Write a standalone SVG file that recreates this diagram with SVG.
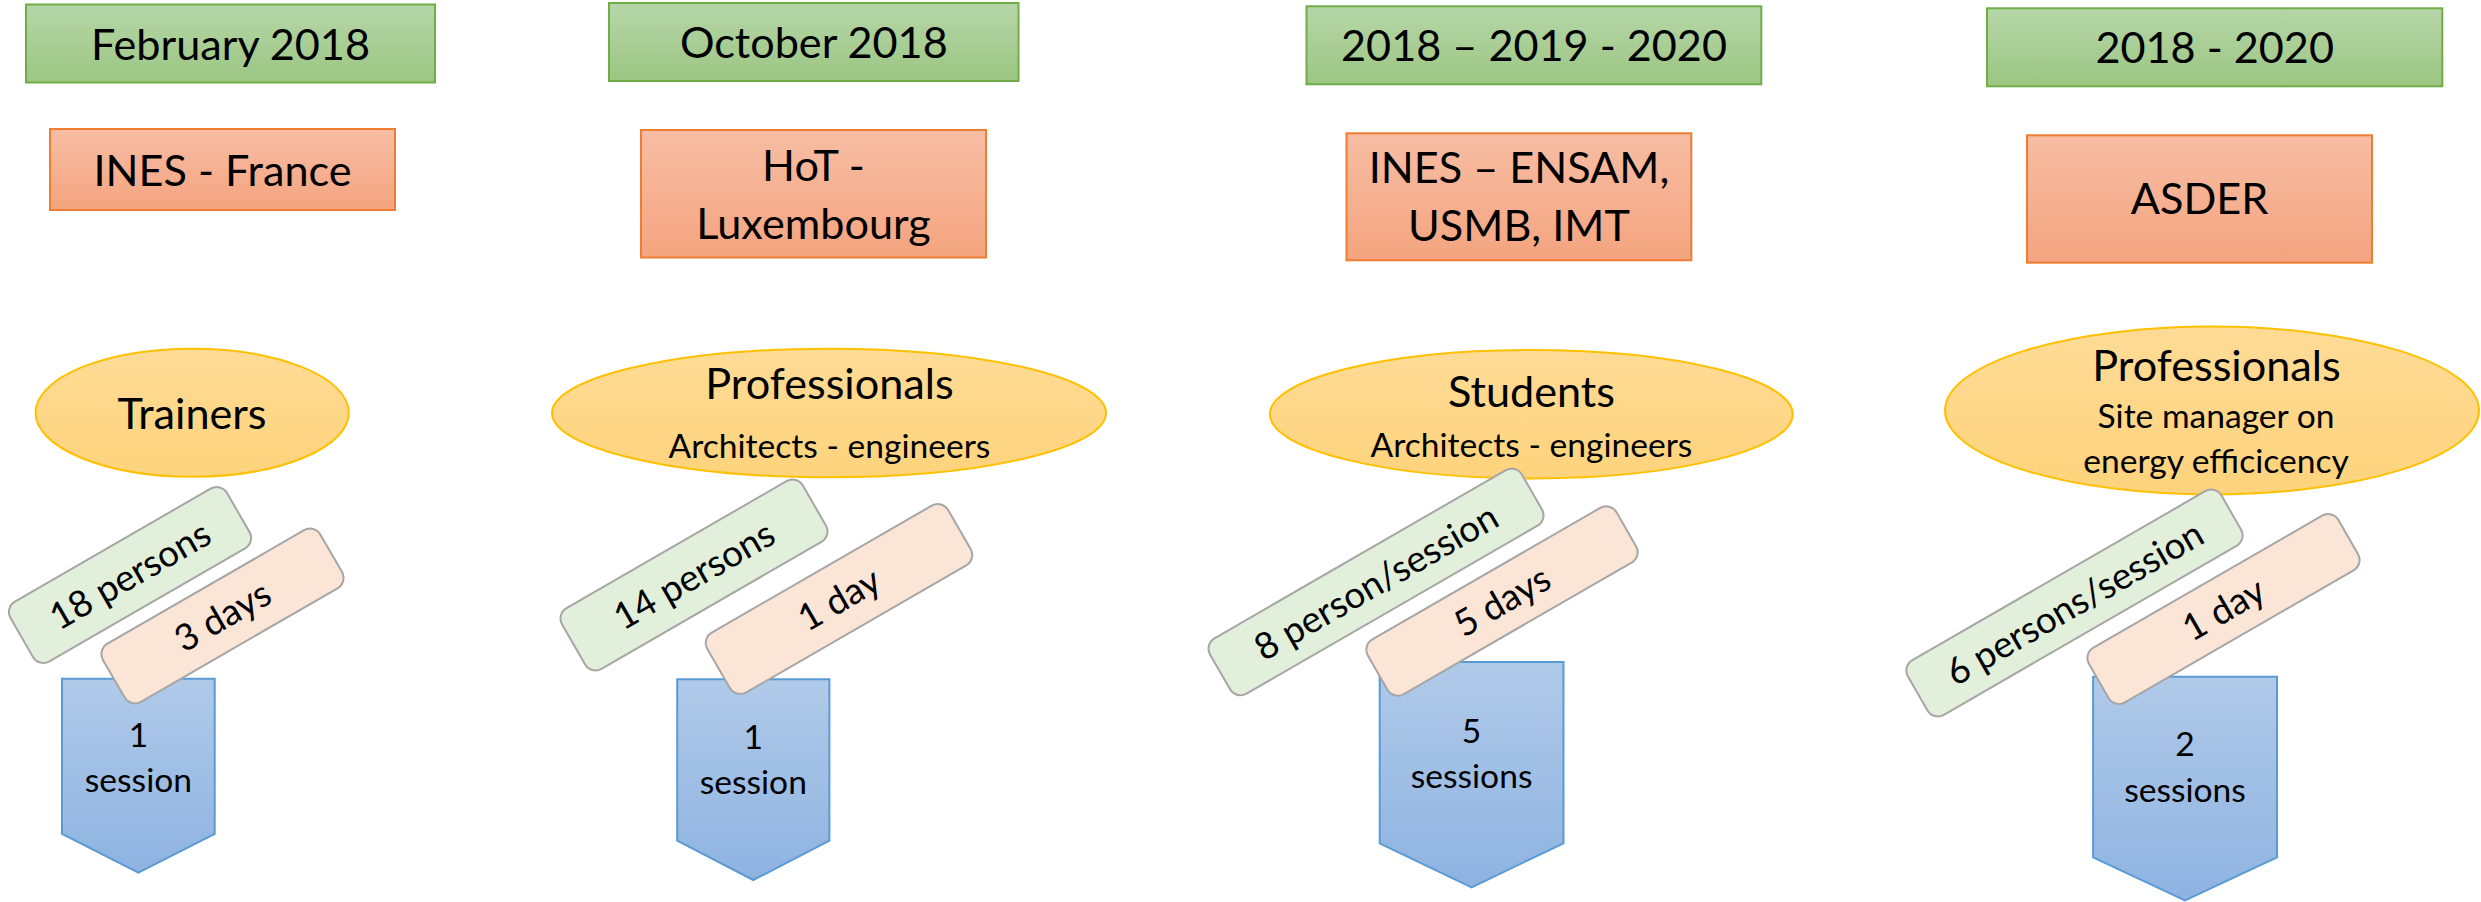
<svg xmlns="http://www.w3.org/2000/svg" width="2481" height="902" viewBox="0 0 2481 902">
<defs>
<linearGradient id="gGreen" x1="0" y1="0" x2="0" y2="1"><stop offset="0" stop-color="#b6d6a8"/><stop offset="1" stop-color="#9cc683"/></linearGradient>
<linearGradient id="gOrange" x1="0" y1="0" x2="0" y2="1"><stop offset="0" stop-color="#f7bda4"/><stop offset="1" stop-color="#f4a47f"/></linearGradient>
<linearGradient id="gYellow" x1="0" y1="0" x2="0" y2="1"><stop offset="0" stop-color="#fedb96"/><stop offset="1" stop-color="#fed37c"/></linearGradient>
<linearGradient id="gBlue" x1="0" y1="0" x2="0" y2="1"><stop offset="0" stop-color="#b0cae9"/><stop offset="1" stop-color="#8eb3e1"/></linearGradient>
<style>
.date{fill:url(#gGreen);stroke:#70ad47;stroke-width:2}
.org{fill:url(#gOrange);stroke:#ed7d31;stroke-width:2}
.aud{fill:url(#gYellow);stroke:#ffc000;stroke-width:2}
.sess{fill:url(#gBlue);stroke:#5b9bd5;stroke-width:2}
.tagG{fill:#e2efda;stroke:#a6a6a6;stroke-width:2}
.tagP{fill:#fbe5d6;stroke:#a6a6a6;stroke-width:2}
text{font-family:Lato,"Open Sans","Liberation Sans",sans-serif;fill:#000;text-anchor:middle}
.big{font-size:43.2px}
.mid{font-size:33.6px}
.tag{font-size:36.8px}
</style>
</defs>

<g id="connectors"/>

<!-- Column 1 -->
<g id="date1"><rect class="date" x="26" y="4.5" width="409" height="78"/><text class="big" x="230.5" y="60">February 2018</text></g>
<g id="org1"><rect class="org" x="50" y="129" width="345" height="81"/><text class="big" x="222.5" y="185.7">INES - France</text></g>
<g id="aud1"><ellipse class="aud" cx="192.2" cy="412.7" rx="156.6" ry="64"/><text class="big" x="192" y="429">Trainers</text></g>
<g id="sess1"><path class="sess" d="M62,678.7 H214.7 V834 L138.4,872.7 L62,834 Z"/><text class="mid" x="138.4" y="746.7">1</text><text class="mid" x="138.4" y="791.7">session</text></g>
<g id="people1" transform="translate(130,575) rotate(-30)"><rect class="tagG" x="-125" y="-34.5" width="250" height="69" rx="12"/><text class="tag" x="0" y="13">18 persons</text></g>
<g id="days1" transform="translate(222.5,616) rotate(-30)"><rect class="tagP" x="-125.5" y="-33.5" width="251" height="67" rx="12"/><text class="tag" x="0" y="13">3 days</text></g>

<!-- Column 2 -->
<g id="date2"><rect class="date" x="609" y="3" width="409.5" height="78"/><text class="big" x="813.8" y="58.3">October 2018</text></g>
<g id="org2"><rect class="org" x="641" y="130" width="345" height="127.5"/><text class="big" x="813.5" y="181">HoT -</text><text class="big" x="813.5" y="239">Luxembourg</text></g>
<g id="aud2"><ellipse class="aud" cx="829" cy="413" rx="277" ry="64.3"/><text class="big" x="829.5" y="399">Professionals</text><text class="mid" x="829.5" y="458">Architects - engineers</text></g>
<g id="sess2"><path class="sess" d="M677.2,679.3 H829.4 V840.7 L753.3,880 L677.2,840.7 Z"/><text class="mid" x="753.3" y="749.3">1</text><text class="mid" x="753.3" y="794">session</text></g>
<g id="people2" transform="translate(694,575) rotate(-30)"><rect class="tagG" x="-139" y="-35" width="278" height="70" rx="12"/><text class="tag" x="0" y="13">14 persons</text></g>
<g id="days2" transform="translate(839,599) rotate(-30)"><rect class="tagP" x="-139" y="-34.5" width="278" height="69" rx="12"/><text class="tag" x="0" y="13">1 day</text></g>

<!-- Column 3 -->
<g id="date3"><rect class="date" x="1306.5" y="6.3" width="454.8" height="78"/><text class="big" x="1534" y="61">2018 – 2019 - 2020</text></g>
<g id="org3"><rect class="org" x="1346.5" y="133.3" width="344.8" height="127"/><text class="big" x="1519" y="183.3">INES – ENSAM,</text><text class="big" x="1519" y="240.7">USMB, IMT</text></g>
<g id="aud3"><ellipse class="aud" cx="1531.3" cy="414.2" rx="261.5" ry="64.2"/><text class="big" x="1531.5" y="407.3">Students</text><text class="mid" x="1531.5" y="457">Architects - engineers</text></g>
<g id="sess3"><path class="sess" d="M1379.7,662 H1563.5 V843.3 L1471.6,887.3 L1379.7,843.3 Z"/><text class="mid" x="1471.6" y="742.7">5</text><text class="mid" x="1471.6" y="787.7">sessions</text></g>
<g id="people3" transform="translate(1376,582) rotate(-30)"><rect class="tagG" x="-180" y="-32" width="360" height="64" rx="12"/><text class="tag" x="0" y="13">8 person/session</text></g>
<g id="days3" transform="translate(1502,601) rotate(-30)"><rect class="tagP" x="-143.5" y="-31.5" width="287" height="63" rx="12"/><text class="tag" x="0" y="13">5 days</text></g>

<!-- Column 4 -->
<g id="date4"><rect class="date" x="1987" y="8.3" width="455.3" height="78"/><text class="big" x="2214.7" y="62.7">2018 - 2020</text></g>
<g id="org4"><rect class="org" x="2027" y="135.3" width="345" height="127.4"/><text class="big" x="2199.5" y="214.3">ASDER</text></g>
<g id="aud4"><ellipse class="aud" cx="2212" cy="410.5" rx="267" ry="84"/><text class="big" x="2216.5" y="381">Professionals</text><text class="mid" x="2216" y="428.3">Site manager on</text><text class="mid" x="2216" y="473.3">energy efficicency</text></g>
<g id="sess4"><path class="sess" d="M2093.1,676.7 H2277 V857.3 L2185,900.5 L2093.1,857.3 Z"/><text class="mid" x="2185" y="756">2</text><text class="mid" x="2185" y="801.7">sessions</text></g>
<g id="people4" transform="translate(2074.5,603) rotate(-30)"><rect class="tagG" x="-181" y="-31.5" width="362" height="63" rx="12"/><text class="tag" x="0" y="13">6 persons/session</text></g>
<g id="days4" transform="translate(2223.5,609) rotate(-30)"><rect class="tagP" x="-144" y="-31.5" width="288" height="63" rx="12"/><text class="tag" x="0" y="13">1 day</text></g>
</svg>
